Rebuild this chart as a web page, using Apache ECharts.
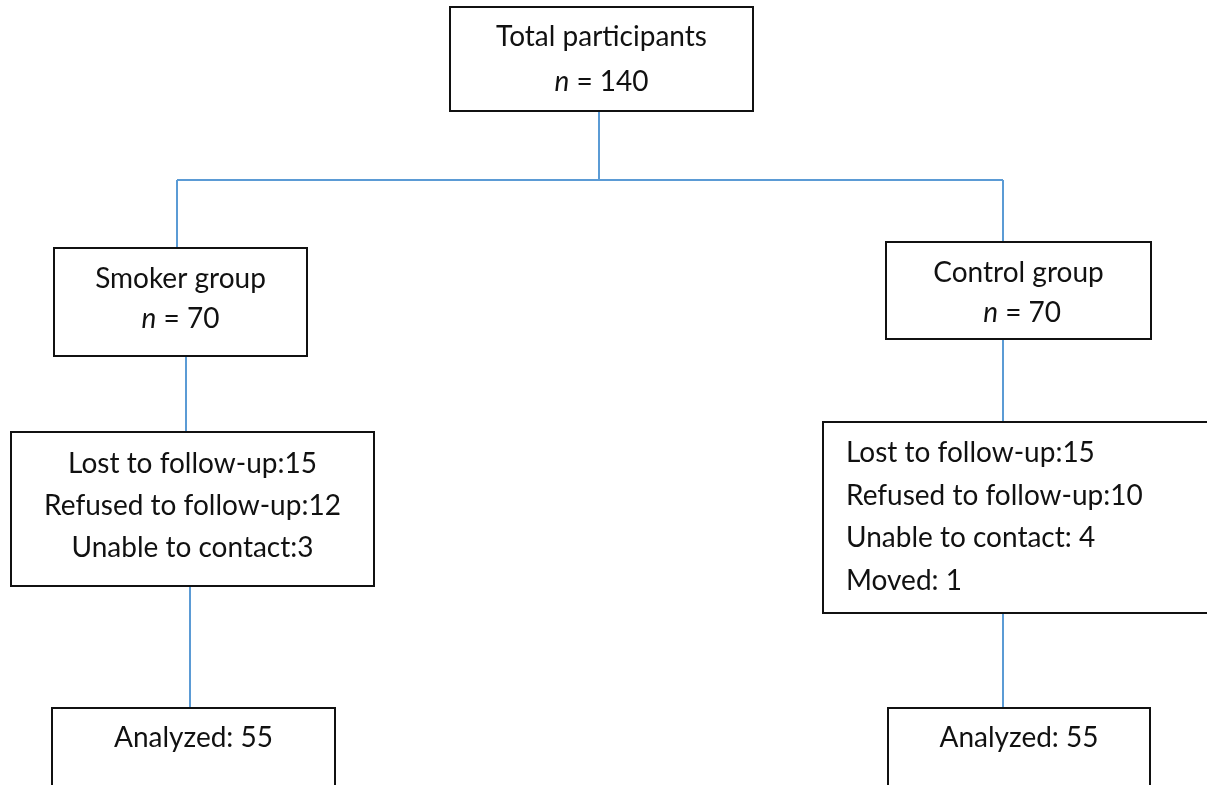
<!DOCTYPE html>
<html>
<head>
<meta charset="utf-8">
<title>Participant flow</title>
<script src="https://cdn.jsdelivr.net/npm/echarts@6/dist/echarts.min.js"></script>
<style>
  html, body { margin: 0; padding: 0; background: #fff; }
  #chart { width: 1207px; height: 785px; }
</style>
</head>
<body>
<div id="chart"></div>
<script>
// box texts ({i|n} = italic n)
const boxNames = ["total", "smoker", "control", "smokerLost", "controlLost", "smokerAnalyzed", "controlAnalyzed"];
const boxTexts = [
  ["Total participants", "{i|n} = 140"],
  ["Smoker group", "{i|n} = 70"],
  ["Control group", " {i|n} = 70"],
  ["Lost to follow-up:15", "Refused to follow-up:12", "Unable to contact:3"],
  ["Lost to follow-up:15", "Refused to follow-up:10", "Unable to contact: 4", "Moved: 1"],
  ["Analyzed: 55"],
  ["Analyzed: 55"]
];

// layout in page pixels: [x0, y0, x1, y1], text center y, line height, align
const boxRects = [
  [450, 7, 753, 111],
  [54, 248, 307, 356],
  [886, 242, 1151, 339],
  [11, 432, 374, 586],
  [823, 422, 1212, 613],
  [52, 708, 335, 820],
  [888, 708, 1150, 820]
];
const textY = [59, 299, 293, 506, 517, 738, 738];
const lineH = [45, 40, 40, 42, 42.5, 42, 42];
const textAlign = ["center", "center", "center", "center", "left", "center", "center"];
const textLeft = [0, 0, 0, 0, 846, 0, 0];

// connectors
const links = [
  [[599, 111], [599, 180]],
  [[177, 180], [1003, 180]],
  [[177, 180], [177, 248]],
  [[1003, 180], [1003, 242]],
  [[186, 356], [186, 432]],
  [[190, 586], [190, 708]],
  [[1003, 339], [1003, 422]],
  [[1003, 613], [1003, 708]]
];

const FONT = "Lato, 'Open Sans', sans-serif";
const FONT_SIZE = 28;

function renderBox(params, api) {
  const i = params.dataIndex;
  const p0 = api.coord([api.value(0), api.value(1)]);
  const p1 = api.coord([api.value(2), api.value(3)]);
  const ty = api.coord([0, textY[i]])[1];
  const tx = textAlign[i] === "left" ? api.coord([textLeft[i], 0])[0] : (p0[0] + p1[0]) / 2;
  return {
    type: "group",
    children: [
      {
        type: "rect",
        shape: { x: p0[0], y: p0[1], width: p1[0] - p0[0], height: p1[1] - p0[1] },
        style: { fill: "#fff", stroke: "#111", lineWidth: 2 }
      },
      {
        type: "text",
        x: tx,
        y: ty,
        style: {
          text: boxTexts[i].join("\n"),
          fontFamily: FONT,
          fontSize: FONT_SIZE,
          fill: "#111",
          align: textAlign[i],
          verticalAlign: "middle",
          lineHeight: lineH[i],
          rich: {
            i: { fontStyle: "italic", fontFamily: FONT, fontSize: FONT_SIZE, lineHeight: lineH[i], fill: "#111" }
          }
        }
      }
    ]
  };
}

const myChart = echarts.init(document.getElementById("chart"));
const option = {
  backgroundColor: "#fff",
  animation: false,
  grid: { left: 0, right: 0, top: 0, bottom: 0 },
  xAxis: { type: "value", min: 0, max: 1207, show: false },
  yAxis: { type: "value", min: 0, max: 785, inverse: true, show: false },
  series: [
    {
      type: "lines",
      coordinateSystem: "cartesian2d",
      z: 1,
      lineStyle: { color: "#5b9bd5", width: 2, opacity: 1 },
      data: links.map(c => ({ coords: c }))
    },
    {
      type: "custom",
      name: "boxes",
      z: 2,
      clip: false,
      renderItem: renderBox,
      data: boxRects.map((r, k) => ({ name: boxNames[k], value: r }))
    }
  ]
};
myChart.setOption(option);
window.addEventListener("resize", () => myChart.resize());
</script>
</body>
</html>
